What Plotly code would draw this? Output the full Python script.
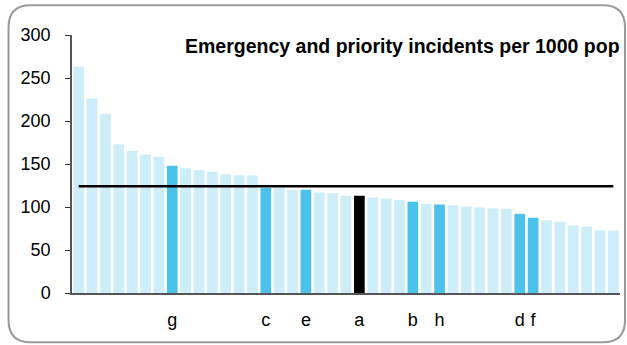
import plotly.graph_objects as go

# ---- data ----
values = [263.5, 226, 208.5, 173, 165, 161, 158, 148, 145, 143, 141, 138, 137, 136.5,
          122, 122, 120, 120, 117, 116, 113, 113, 111, 110, 108, 106, 103.5, 103, 102,
          100.5, 99.5, 98.5, 98, 92, 87.5, 84.5, 83, 78.5, 77, 73, 72.5]
labels = ["", "", "", "", "", "", "", "g", "", "", "", "", "", "",
          "c", "", "", "e", "", "", "", "a", "", "", "", "b", "", "h", "",
          "", "", "", "", "d", "f", "", "", "", "", "", ""]
reference_value = 124
title = "Emergency and priority incidents per 1000 pop"
y_ticks = [0, 50, 100, 150, 200, 250, 300]

LIGHT = "#CDEDF9"
HIGHLIGHT = "#4AC2EB"
SELF = "#000000"

x = list(range(len(values)))
colors = [LIGHT if l == "" else (SELF if l == "a" else HIGHLIGHT) for l in labels]

W, H = 627, 345
L, R, T, B = 72, 6.5, 35.3, 51.7
pw, ph = W - L - R, H - T - B

fig = go.Figure()
fig.add_trace(go.Bar(x=x, y=values, marker=dict(color=colors, line=dict(width=0)),
                     width=0.8, hoverinfo="y", showlegend=False))
fig.add_trace(go.Scatter(x=[x[0], x[-1]], y=[reference_value, reference_value], mode="lines",
                         line=dict(color="black", width=2.5), showlegend=False, hoverinfo="skip"))

def px(v):
    return (v - L) / pw

def py(v):
    return (H - B - v) / ph

l_, t_, r_, b_, rad = 8.5, 5.5, 625.5, 342.5, 22
path = (f"M {px(l_+rad)},{py(t_)} L {px(r_-rad)},{py(t_)} Q {px(r_)},{py(t_)} {px(r_)},{py(t_+rad)} "
        f"L {px(r_)},{py(b_-rad)} Q {px(r_)},{py(b_)} {px(r_-rad)},{py(b_)} "
        f"L {px(l_+rad)},{py(b_)} Q {px(l_)},{py(b_)} {px(l_)},{py(b_-rad)} "
        f"L {px(l_)},{py(t_+rad)} Q {px(l_)},{py(t_)} {px(l_+rad)},{py(t_)} Z")

fig.update_layout(
    width=W, height=H,
    margin=dict(l=L, r=R, t=T, b=B, pad=0),
    paper_bgcolor="white", plot_bgcolor="white",
    font=dict(family="Liberation Sans, Arial, sans-serif", size=18, color="black"),
    bargap=0.2,
    shapes=[dict(type="path", xref="paper", yref="paper", path=path,
                 line=dict(color="#9A9A9A", width=2), layer="above")],
    annotations=[dict(text=f"<b>{title}</b>", xref="paper", yref="paper",
                      x=px(623), y=py(46), xanchor="right", yanchor="middle",
                      showarrow=False, font=dict(size=19.5, color="black"))],
)
fig.update_xaxes(range=[-0.5, len(values) - 0.5], tickmode="array", tickvals=x, ticktext=labels,
                 ticks="outside", ticklen=10, tickcolor="rgba(0,0,0,0)",
                 showline=True, linecolor="#555555", linewidth=1.5, showgrid=False,
                 zeroline=False, fixedrange=True)
fig.update_yaxes(range=[0, 300], tickvals=y_ticks, ticks="outside", ticklen=5,
                 tickcolor="#333333", showline=True, linecolor="#555555", linewidth=1.5,
                 showgrid=False, zeroline=False, fixedrange=True, ticklabelstandoff=11)

fig.write_html("out.html", config={"displayModeBar": False},
               post_script="document.body.style.margin='0';document.body.style.overflow='hidden';")
